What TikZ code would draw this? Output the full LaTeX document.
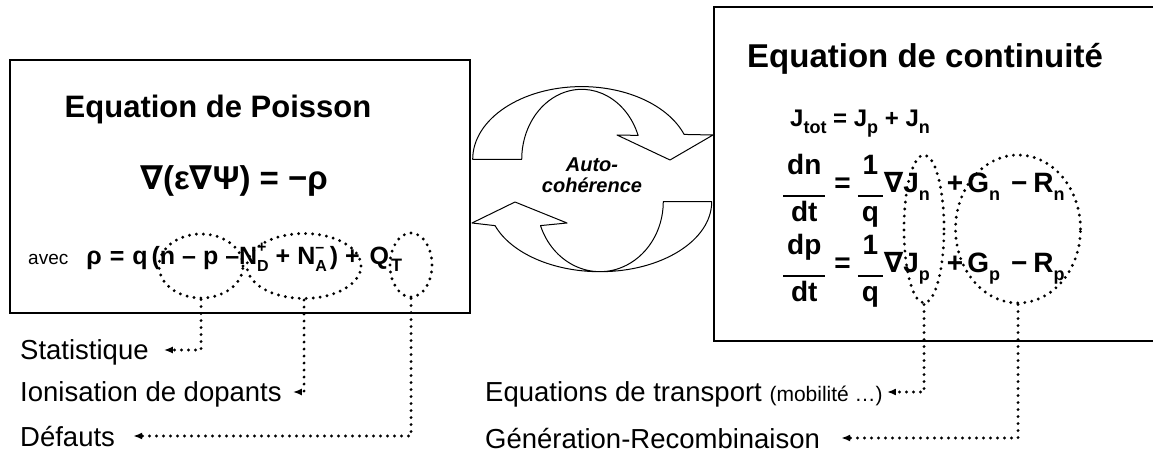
\documentclass[tikz,border=0pt]{standalone}
\usepackage{fontspec}
\setmainfont{Liberation Sans}
\newfontfamily\symfont{DejaVu Sans}
\usetikzlibrary{shapes.geometric, positioning, arrows.meta, calc}
\setlength{\arrayrulewidth}{1.6pt}
\newcommand{\nab}{{\symfont\bfseries ∇}}
\newcommand{\idx}[1]{\raisebox{-0.28em}{\fontsize{18}{18}\selectfont #1}}
\newcommand{\supsub}[2]{\rlap{\raisebox{0.5em}{\fontsize{16}{16}\selectfont #1}}%
  \raisebox{-0.28em}{\fontsize{16}{16}\selectfont #2}}
\newcommand{\fracbox}[2]{\raisebox{-29pt}{\begin{tabular}[b]{@{\hspace{4pt}}c@{\hspace{4pt}}}%
  #1\rule[-21pt]{0pt}{0pt}\\\hline\rule{0pt}{25pt}#2\end{tabular}}}

\tikzset{
  panel/.style={draw, line width=1.5pt},
  eqtitle/.style={font=\fontsize{33}{40}\selectfont\bfseries, inner sep=0pt, anchor=base},
  eqline/.style={font=\fontsize{28}{32}\selectfont\bfseries, inner sep=0pt, anchor=base west},
  loopring/.style={ellipse, draw, line width=3.2pt, dash pattern=on 0pt off 7pt,
                   line cap=round, inner sep=0pt},
  leader/.style={line width=3.2pt, dash pattern=on 0pt off 7pt, line cap=round,
                 -{Latex[length=9pt,width=7pt]}},
  lbl/.style={font=\fontsize{27.5}{31}\selectfont, inner xsep=0pt, anchor=west,
              text height=20pt, text depth=0pt},
  bentarrow/.style={draw, fill=white, line width=1pt, line join=round},
}

\begin{document}
\begin{tikzpicture}[x=1pt, y=1pt]
  \useasboundingbox (0,0) rectangle (1153,455);

  % Self-consistency loop between both panels
  \draw[bentarrow] (472.7,295.7)
        arc[start angle=180, end angle=20, x radius=109, y radius=72.7]
        -- (713,320) -- (670,295) -- (617,320) -- (638.1,319.6)
        arc[start angle=20, end angle=180, x radius=60, y radius=70] -- cycle;
  \draw[bentarrow] (711.7,253.3)
        arc[start angle=0, end angle=-160, x radius=111.7, y radius=70]
        -- (472,232) -- (515,253) -- (567,232) -- (540.5,229.4)
        arc[start angle=-160, end angle=0, x radius=63.3, y radius=70] -- cycle;
  \node[font=\fontsize{20}{21}\selectfont\bfseries\itshape, align=center]
        (auto) at (592,280) {Auto-\\cohérence};

  \draw[panel] (10,142) rectangle (470,395);
  \draw[panel] (714,114) rectangle (1160,448);

  % Poisson panel
  \node[eqtitle, font=\fontsize{31}{36}\selectfont\bfseries] (poisson) at (218,337)
        {Equation de Poisson};
  \node[eqtitle, font=\fontsize{33}{38}\selectfont\bfseries] (gauss) at (234,265)
        {\nab(ε\nab Ψ) = −ρ};
  \node[eqline, font=\fontsize{25}{30}\selectfont\bfseries] (rho) at (28,190)
        {{\fontsize{19}{19}\selectfont\mdseries avec}\hspace{18pt}ρ\hspace{8pt}=\hspace{8pt}q\hspace{4pt}(n – p –N\supsub{+}{D}
         + N\supsub{–}{A}\hspace{3pt}) +\hspace{10pt}Q\hspace{2pt}\idx{T}};
  \node[loopring, minimum width=84pt, minimum height=64pt] (e1) at (201,189) {};
  \node[loopring, minimum width=114pt, minimum height=65pt] (e2) at (304,189) {};
  \node[loopring, minimum width=42pt, minimum height=64pt] (e3) at (411,190) {};

  % Continuity panel
  \node[eqtitle] (conti) at (925,387) {Equation de continuité};
  \node[eqline, font=\fontsize{24}{26}\selectfont\bfseries] (jtot) at (790,328)
        {J\idx{tot} = J\idx{p} + J\idx{n}};
  \node[eqline] (rown) at (783,262)
        {\fracbox{dn}{dt}\hspace{9pt}=\hspace{7pt}\fracbox{1}{q}\hspace{1pt}\nab
         \hspace{0pt}J\idx{n}\hspace{17pt}+\hspace{4pt}G\idx{n}\hspace{11pt}−\hspace{6pt}R\idx{n}};
  \node[eqline] (rowp) at (783,182)
        {\fracbox{dp}{dt}\hspace{9pt}=\hspace{7pt}\fracbox{1}{q}\hspace{1pt}\nab
         \hspace{0pt}J\idx{p}\hspace{17pt}+\hspace{4pt}G\idx{p}\hspace{11pt}−\hspace{6pt}R\idx{p}};
  \node[loopring, minimum width=40pt, minimum height=148pt] (jl) at (924,226) {};
  \node[loopring, minimum width=125pt, minimum height=148pt] (gr) at (1018,226) {};

  % Physical models
  \foreach \nm/\txt/\yy in {stat/Statistique/105, ion/Ionisation de dopants/63,
                            def/Défauts/19}
    \node[lbl] (\nm) at (20,\yy) {\txt};
  \node[lbl] (trans) at (485,63)
        {Equations de transport {\fontsize{21}{22}\selectfont (mobilité …)}};
  \node[lbl] (genrec) at (485,17) {Génération-Recombinaison};

  \foreach \src/\dst/\gap in {e1/stat/15, e2/ion/11, e3/def/18, jl/trans/4, gr/genrec/21}
    \draw[leader] (\src.south) |- ([xshift=\gap pt]\dst.east);
\end{tikzpicture}
\end{document}
